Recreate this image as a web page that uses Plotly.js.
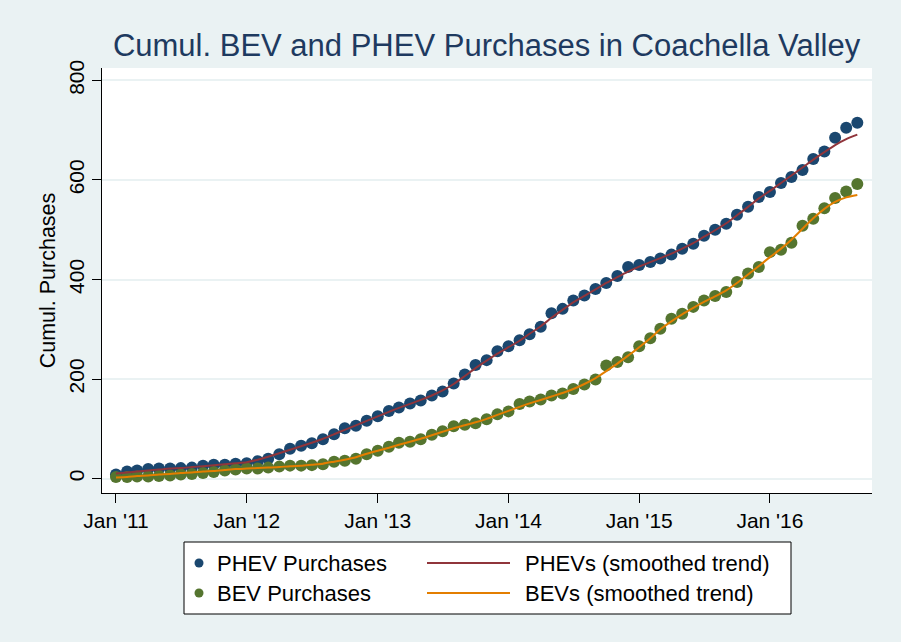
<!DOCTYPE html>
<html><head><meta charset="utf-8">
<script src="https://cdn.plot.ly/plotly-3.0.1.min.js"></script>
<style>html,body{margin:0;padding:0;background:#EAF2F3;}#chart{width:901px;height:642px;}</style>
</head><body><div id="chart"></div>
<script>
const months = [
"2011-01","2011-02","2011-03","2011-04","2011-05","2011-06","2011-07","2011-08","2011-09","2011-10","2011-11","2011-12",
"2012-01","2012-02","2012-03","2012-04","2012-05","2012-06","2012-07","2012-08","2012-09","2012-10","2012-11","2012-12",
"2013-01","2013-02","2013-03","2013-04","2013-05","2013-06","2013-07","2013-08","2013-09","2013-10","2013-11","2013-12",
"2014-01","2014-02","2014-03","2014-04","2014-05","2014-06","2014-07","2014-08","2014-09","2014-10","2014-11","2014-12",
"2015-01","2015-02","2015-03","2015-04","2015-05","2015-06","2015-07","2015-08","2015-09","2015-10","2015-11","2015-12",
"2016-01","2016-02","2016-03","2016-04","2016-05","2016-06","2016-07","2016-08","2016-09"];
const phevPurchases = [
8,14,16,19,20,20,21,22,26,28,28,30,
31,35,40,49,60,66,71,79,89,101,106,116,
125,136,143,151,157,167,175,191,209,228,238,256,
266,278,290,305,332,341,358,368,381,393,407,425,
429,435,442,450,462,472,488,500,512,530,546,566,
576,594,606,620,642,657,685,705,715];
const bevPurchases = [
3,3,4,4,5,6,8,9,11,13,16,18,
20,20,22,24,26,26,27,29,34,36,40,49,
56,64,72,74,79,88,95,105,108,111,119,129,
135,150,155,159,167,171,180,189,199,227,234,244,
266,282,301,321,331,345,358,367,375,395,412,425,
455,460,474,508,522,543,564,577,592];
const phevTrend = [
10,12,14,16,18,20,21,23,25,27,29,31,
33,38,44,51,58,65,72,80,89,98,107,116,
125,134,142,150,158,167,177,190,206,222,237,251,
264,277,291,306,323,339,354,367,380,393,405,416,
426,435,443,452,462,473,486,499,513,529,546,563,
578,594,609,625,641,656,670,682,691];
const bevTrend = [
2,3,5,6,8,9,11,12,14,15,17,19,
20,21,22,23,25,26,28,30,34,38,43,50,
56,62,68,74,80,87,94,101,107,113,120,128,
136,144,151,158,165,172,180,190,202,216,231,247,
264,282,300,316,330,343,355,366,378,393,410,427,
445,462,480,502,523,542,556,565,570];
const xTickVals = ["2011-01-01","2012-01-01","2013-01-01","2014-01-01","2015-01-01","2016-01-01"];
const xTickText = ["Jan '11","Jan '12","Jan '13","Jan '14","Jan '15","Jan '16"];
const yTickVals = [0,200,400,600,800];
const seriesNames = ["PHEV Purchases","BEV Purchases","PHEVs (smoothed trend)","BEVs (smoothed trend)"];
const colors = {phev:"#1A476F", bev:"#55752F", phevLine:"#90353B", bevLine:"#E37E00"};

const FONT = "Liberation Sans, Arial, Helvetica, sans-serif";
const traces = [
  {x:months, y:phevPurchases, type:"scatter", mode:"markers", name:seriesNames[0],
   marker:{color:colors.phev, size:12, line:{width:0}}},
  {x:months, y:bevPurchases, type:"scatter", mode:"markers", name:seriesNames[1],
   marker:{color:colors.bev, size:12, line:{width:0}}},
  {x:months, y:phevTrend, type:"scatter", mode:"lines", name:seriesNames[2],
   line:{color:colors.phevLine, width:2, shape:"spline", smoothing:0.6}},
  {x:months, y:bevTrend, type:"scatter", mode:"lines", name:seriesNames[3],
   line:{color:colors.bevLine, width:2, shape:"spline", smoothing:0.6}}
];

// plot area in pixels
const L=102, R=872, T=68, B=493;
const px = v => (v - L) / (R - L);
const py = v => (B - v) / (B - T);

const shapes = [
  {type:"rect", xref:"paper", yref:"paper", x0:px(184), x1:px(791), y0:py(614), y1:py(542),
   fillcolor:"#FFFFFF", line:{color:"#000000", width:1}, layer:"above"},
  {type:"circle", xref:"paper", yref:"paper", x0:px(194.5), x1:px(203.5), y0:py(567.5), y1:py(558.5),
   fillcolor:colors.phev, line:{width:0}},
  {type:"circle", xref:"paper", yref:"paper", x0:px(194.5), x1:px(203.5), y0:py(597.5), y1:py(588.5),
   fillcolor:colors.bev, line:{width:0}},
  {type:"line", xref:"paper", yref:"paper", x0:px(427), x1:px(510), y0:py(563), y1:py(563),
   line:{color:colors.phevLine, width:2}},
  {type:"line", xref:"paper", yref:"paper", x0:px(427), x1:px(510), y0:py(593), y1:py(593),
   line:{color:colors.bevLine, width:2}}
];
const legText = (t, x, y) => ({text:t, xref:"paper", yref:"paper", x:px(x), y:py(y),
  xanchor:"left", yanchor:"middle", showarrow:false, font:{family:FONT, size:22, color:"#000000"}});
const annotations = [
  legText(seriesNames[0], 215, 563),
  legText(seriesNames[1], 215, 593),
  legText(seriesNames[2], 523, 563),
  legText(seriesNames[3], 523, 593)
];

const layout = {
  width:901, height:642,
  paper_bgcolor:"#EAF2F3", plot_bgcolor:"#FFFFFF",
  margin:{l:L, r:901-R, t:T, b:642-B, pad:0},
  showlegend:false,
  font:{family:FONT, size:21, color:"#000000"},
  title:{text:"Cumul. BEV and PHEV Purchases in Coachella Valley",
    font:{family:FONT, size:31, color:"#1E3A60"},
    x:0.54, xanchor:"center", xref:"container", y:1-45/642, yanchor:"middle", yref:"container"},
  xaxis:{type:"date", range:["2010-11-23","2016-10-12"], tickvals:xTickVals, ticktext:xTickText,
    ticks:"outside", ticklen:9, tickwidth:1, tickcolor:"#000000",
    showline:true, linecolor:"#000000", linewidth:1, showgrid:false, zeroline:false,
    tickfont:{family:FONT, size:21, color:"#000000"}, fixedrange:true},
  yaxis:{range:[-29,825], tickvals:yTickVals, tickangle:-90,
    ticks:"outside", ticklen:9, tickwidth:1, tickcolor:"#000000",
    showline:true, linecolor:"#000000", linewidth:1,
    showgrid:true, gridcolor:"#EAF2F3", gridwidth:2, zeroline:false,
    tickfont:{family:FONT, size:21, color:"#000000"},
    title:{text:"Cumul. Purchases", font:{family:FONT, size:21.5, color:"#000000"}, standoff:3}},
  shapes:shapes, annotations:annotations
};
Plotly.newPlot("chart", traces, layout, {displayModeBar:false, staticPlot:true});
</script></body></html>
